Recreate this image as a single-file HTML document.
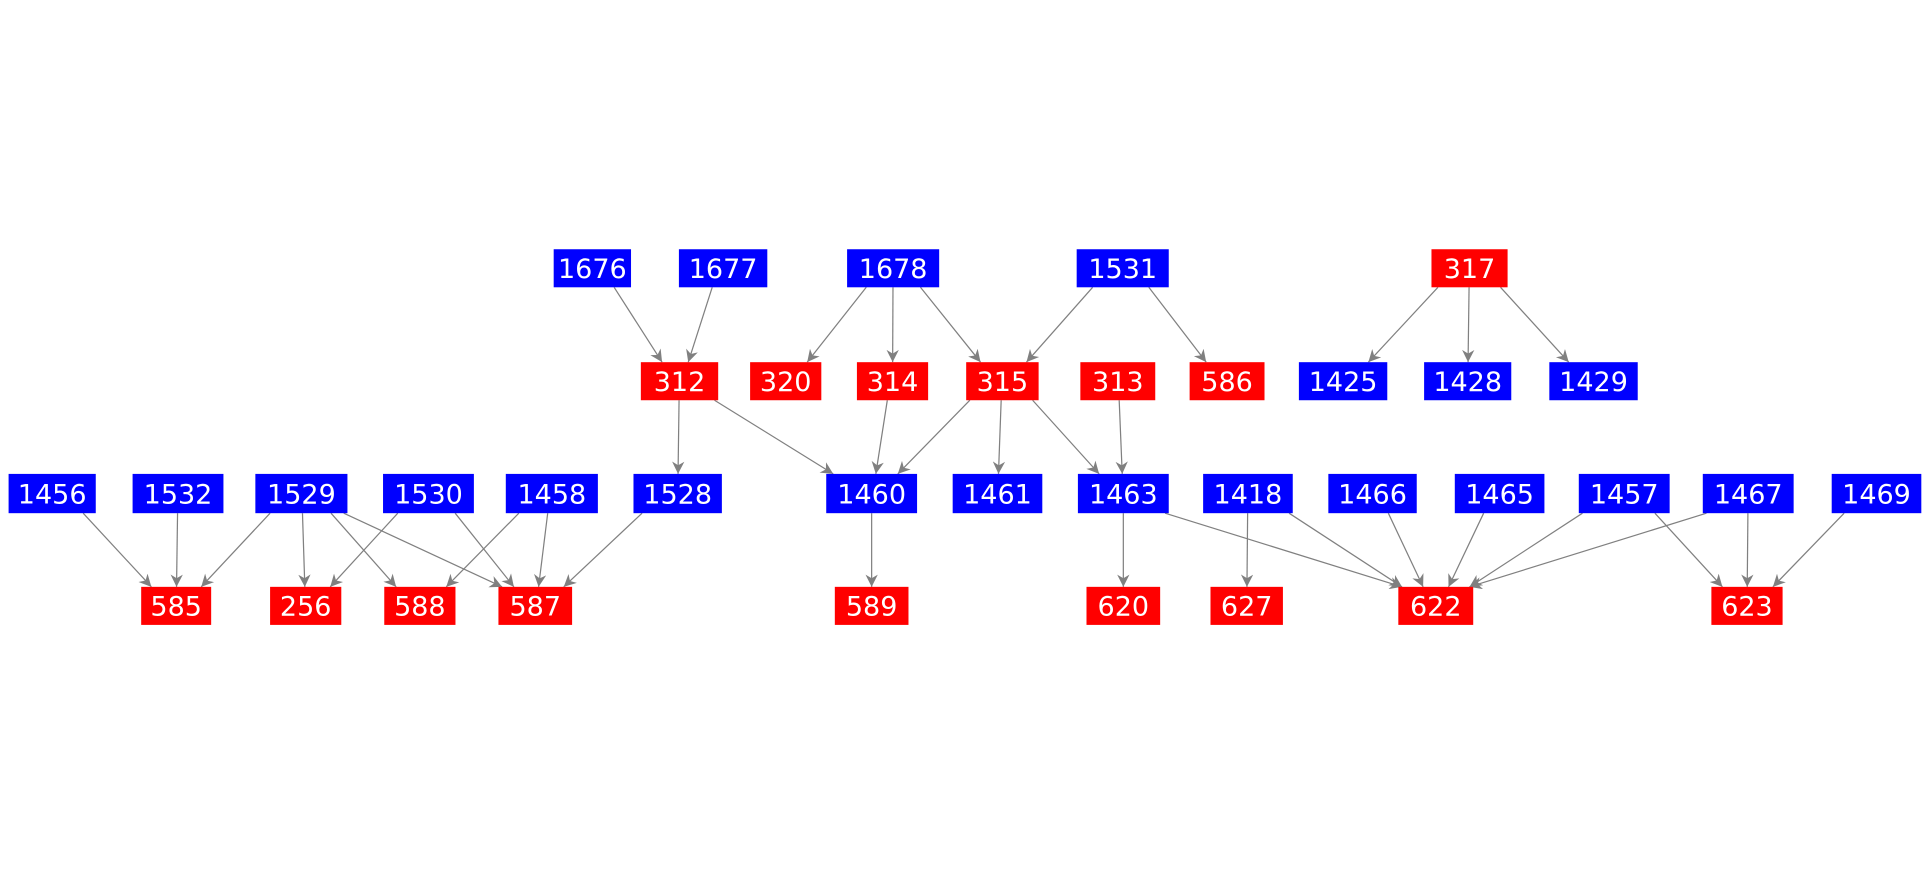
<!DOCTYPE html>
<html><head><meta charset="utf-8"><style>
html,body{margin:0;padding:0;background:#fff;width:1925px;height:875px;overflow:hidden}
svg{display:block}
text{font-family:"DejaVu Sans","Liberation Sans",sans-serif;font-size:22px;fill:#fff;text-anchor:middle;dominant-baseline:central}
</style></head><body>
<svg id="s" width="1925" height="875" viewBox="0 0 1568 712.7" xmlns="http://www.w3.org/2000/svg">
<defs><marker id="a" viewBox="0 0 10 10" refX="10" refY="5" markerWidth="12" markerHeight="10" markerUnits="userSpaceOnUse" orient="auto"><path d="M0,0 L10,5 L0,10 L3,5 z" fill="#808080"/></marker></defs>
<g id="e"></g><g id="n"></g>
</svg>
<script>
var R={1:[203,234],2:[295,326],3:[386,418],4:[478,509]};
var N={
'1676':[1,451,514,'b'],'1677':[1,553,625,'b'],'1678':[1,690,765,'b'],'1531':[1,877,952,'b'],'317':[1,1166,1228,'r'],
'312':[2,522,585,'r'],'320':[2,611,669,'r'],'314':[2,698,756,'r'],'315':[2,787,846,'r'],'313':[2,880,941,'r'],'586':[2,969,1030,'r'],'1425':[2,1058,1130,'b'],'1428':[2,1160,1231,'b'],'1429':[2,1262,1334,'b'],
'1456':[3,7,78,'b'],'1532':[3,108,182,'b'],'1529':[3,208,283,'b'],'1530':[3,312,386,'b'],'1458':[3,412,487,'b'],'1528':[3,516,588,'b'],'1460':[3,673,747,'b'],'1461':[3,776,849,'b'],'1463':[3,878,952,'b'],'1418':[3,980,1053,'b'],'1466':[3,1082,1154,'b'],'1465':[3,1185,1258,'b'],'1457':[3,1286,1360,'b'],'1467':[3,1387,1461,'b'],'1469':[3,1492,1565,'b'],
'585':[4,115,172,'r'],'256':[4,220,278,'r'],'588':[4,313,371,'r'],'587':[4,406,466,'r'],'589':[4,680,740,'r'],'620':[4,885,945,'r'],'627':[4,986,1045,'r'],'622':[4,1139,1200,'r'],'623':[4,1394,1452,'r']};
var E="1676-312 1677-312 1678-320 1678-314 1678-315 1531-315 1531-586 317-1425 317-1428 317-1429 312-1528 312-1460 314-1460 315-1460 315-1461 315-1463 313-1463 1460-589 1463-620 1463-622 1418-627 1418-622 1466-622 1465-622 1457-622 1457-623 1467-622 1467-623 1469-623 1456-585 1532-585 1529-585 1529-256 1529-588 1529-587 1530-256 1530-587 1458-588 1458-587 1528-587".split(' ');
var ns="http://www.w3.org/2000/svg",eg=document.getElementById('e'),ng=document.getElementById('n');
function cl(v,a,b){return Math.max(a+3,Math.min(b-3,v));}
E.forEach(function(s){var p=s.split('-'),A=N[p[0]],B=N[p[1]];
var ac=(A[1]+A[2])/2,bc=(B[1]+B[2])/2,d=bc-ac;
var x1=cl(ac+d*0.25,A[1],A[2]),y1=R[A[0]][1];
var x2=cl(bc-d*0.2,B[1],B[2]),y2=R[B[0]][0];
var l=document.createElementNS(ns,'line');
l.setAttribute('x1',x1);l.setAttribute('y1',y1);l.setAttribute('x2',x2);l.setAttribute('y2',y2);
l.setAttribute('stroke','#808080');l.setAttribute('stroke-width','1');l.setAttribute('marker-end','url(#a)');eg.appendChild(l);});
for(var k in N){var n=N[k],y=R[n[0]];
var r=document.createElementNS(ns,'rect');r.setAttribute('x',n[1]);r.setAttribute('y',y[0]);r.setAttribute('width',n[2]-n[1]);r.setAttribute('height',y[1]-y[0]);
r.setAttribute('fill',n[3]=='b'?'#0000ff':'#ff0000');ng.appendChild(r);
var t=document.createElementNS(ns,'text');t.setAttribute('x',(n[1]+n[2])/2);t.setAttribute('y',(y[0]+y[1])/2+1);t.textContent=k;ng.appendChild(t);}
</script>
</body></html>
